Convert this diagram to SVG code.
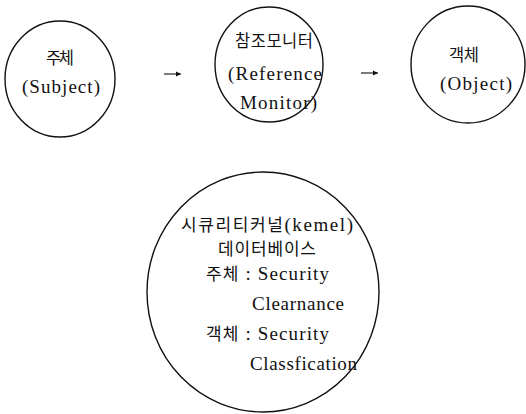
<svg xmlns="http://www.w3.org/2000/svg" width="526" height="414" viewBox="0 0 526 414">
<style>
.node{fill:none;stroke:#111;stroke-width:1.4}
.t{font-family:"Liberation Serif","Noto Sans CJK KR",serif;font-size:19px;fill:#111}
.k{font-family:"Noto Sans CJK KR","Liberation Serif",sans-serif;font-size:16.5px;fill:#111}
.h{font-family:"Noto Sans CJK KR",sans-serif;font-size:17px}
.c{stroke:#111;stroke-width:1.1;fill:none}
</style>
<defs>
<marker id="ah" markerWidth="6" markerHeight="6" refX="5" refY="3" orient="auto" markerUnits="userSpaceOnUse">
<path d="M0,0.5 L5,3 L0,5.5 Z" fill="#111"/>
</marker>
</defs>
<rect width="526" height="414" fill="#fff"/>
<g id="connectors">
<line class="c" x1="164" y1="74" x2="181" y2="74" marker-end="url(#ah)"/>
<line class="c" x1="361" y1="73" x2="378" y2="73" marker-end="url(#ah)"/>
</g>
<g id="subject">
<ellipse class="node" cx="60" cy="79" rx="55" ry="58"/>
<text class="k" x="46" y="64" textLength="28" lengthAdjust="spacing">주체</text>
<text class="t" x="22" y="93" textLength="78" lengthAdjust="spacing">(Subject)</text>
</g>
<g id="reference-monitor">
<ellipse class="node" cx="269" cy="64.5" rx="54" ry="57.5"/>
<text class="k" x="235" y="47" textLength="78" lengthAdjust="spacing">참조모니터</text>
<text class="t" x="228" y="80" textLength="94" lengthAdjust="spacing">(Reference</text>
<text class="t" x="240" y="109" textLength="77" lengthAdjust="spacing">Monitor)</text>
</g>
<g id="object">
<ellipse class="node" cx="468" cy="64.5" rx="57" ry="58.5"/>
<text class="k" x="449" y="61" textLength="30" lengthAdjust="spacing">객체</text>
<text class="t" x="440" y="90" textLength="72" lengthAdjust="spacing">(Object)</text>
</g>
<g id="security-kernel">
<ellipse class="node" cx="263" cy="292" rx="116" ry="120"/>
<text class="t" x="181" y="231" textLength="172" lengthAdjust="spacing"><tspan class="h">시큐리티커널</tspan>(kemel)</text>
<text class="k" x="218" y="255" textLength="98" lengthAdjust="spacing" style="font-size:17px">데이터베이스</text>
<text class="t" x="206" y="280" textLength="123" lengthAdjust="spacing"><tspan class="h">주체</tspan> : Security</text>
<text class="t" x="252" y="310" textLength="92" lengthAdjust="spacing">Clearnance</text>
<text class="t" x="206" y="340" textLength="123" lengthAdjust="spacing"><tspan class="h">객체</tspan> : Security</text>
<text class="t" x="250" y="370" textLength="107" lengthAdjust="spacing">Classfication</text>
</g>
</svg>
